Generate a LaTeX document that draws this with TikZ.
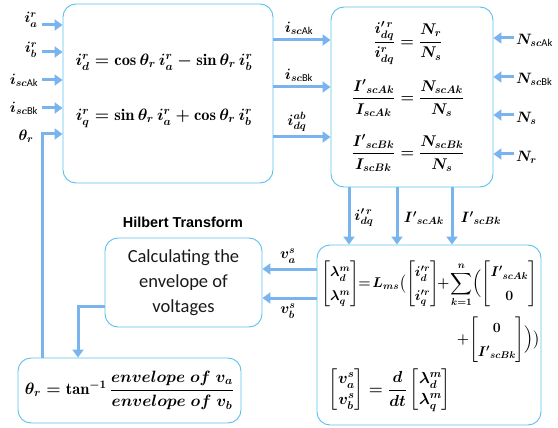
\RequirePackage{fix-cm}
\documentclass[tikz,border=0pt]{standalone}
\usepackage{amsmath}
\usepackage{graphicx}
\usepackage{fontspec}
\setsansfont{Carlito}
\newfontfamily\arialfont{Liberation Sans}
\usetikzlibrary{arrows.meta}
\definecolor{arr}{HTML}{7AB4EE}
\definecolor{bord}{HTML}{5BC0EB}
\newcommand{\sfs}[1]{\text{\sffamily\mdseries #1}}
\tikzset{
  blk/.style={draw=bord, line width=0.9pt, rounded corners=13pt, inner sep=0pt},
  flow/.style={draw=arr, line width=3pt, -{Triangle[length=8pt,width=11pt]}},
  lab/.style={inner sep=0pt, font=\fontsize{15}{17}\selectfont\boldmath},
  eqn/.style={inner sep=0pt, font=\fontsize{16.4}{19}\selectfont\boldmath},
  eqf/.style={inner sep=0pt, font=\fontsize{15.5}{18}\selectfont\boldmath},
  eqm/.style={inner sep=0pt, font=\fontsize{16}{19}\selectfont\boldmath\renewcommand\arraystretch{1.1}},
  eqt/.style={inner sep=0pt, font=\fontsize{16}{19}\selectfont\boldmath\renewcommand\arraystretch{1.4}},
}
\begin{document}
\begin{tikzpicture}[x=1pt,y=-1pt]
\useasboundingbox (0,0) rectangle (558,428);

% boxes
\node[blk, minimum width=210pt, minimum height=179pt] (b1) at (168,93.5) {};
\node[blk, minimum width=162pt, minimum height=180pt] (b2) at (412,97) {};
\node[blk, minimum width=224pt, minimum height=180pt] (b3) at (429,335) {};
\node[blk, minimum width=157pt, minimum height=89pt, align=center,
      font=\sffamily\fontsize{18.5}{25}\selectfont, text=black!90] (b4) at (183.5,282.5)
      {Calculating the\\envelope of\\voltages};
\node[blk, minimum width=223pt, minimum height=65pt, font=\fontsize{16.4}{20}\selectfont\boldmath] (b5) at (129.5,390.5)
      {$\theta_r=\tan^{-1}\dfrac{envelope\ of\ v_a}{envelope\ of\ v_b}$};

% box 1 equations
\node[eqn] (e1) at (164,62) {$i^r_d=\cos\theta_r\, i^r_a-\sin\theta_r\, i^r_b$};
\node[eqn] (e2) at (164,118) {$i^r_q=\sin\theta_r\, i^r_a+\cos\theta_r\, i^r_b$};

% box 2 equations
\node[eqf] (e3) at (408,43) {$\dfrac{i'^{\,r}_{dq}}{i^r_{dq}}=\dfrac{N_r}{N_s}$};
\node[eqf] (e4) at (408,98) {$\dfrac{{I'}_{scAk}}{I_{scAk}}=\dfrac{N_{scAk}}{N_s}$};
\node[eqf] (e5) at (408,153) {$\dfrac{{I'}_{scBk}}{I_{scBk}}=\dfrac{N_{scBk}}{N_s}$};

% box 3 equations
\node[eqt, anchor=west] (e6) at (321,284)
  {\resizebox{216pt}{!}{$\displaystyle\begin{bmatrix}\lambda^m_d\\ \lambda^m_q\end{bmatrix}\!\!=\!L_{ms}\big(\!\begin{bmatrix}i'^{r}_d\\ i'^{r}_q\end{bmatrix}\!\!+\!\sum_{k=1}^{n}\!\Big(\!\begin{bmatrix}{I'}_{scAk}\\ 0\end{bmatrix}$}};
\node[eqt, anchor=east] (e7) at (541,340)
  {\resizebox{84pt}{!}{$+\!\begin{bmatrix}0\\ {I'}_{scBk}\end{bmatrix}\!\Big)\big)$}};
\node[eqm] (e8) at (390,390)
  {$\begin{bmatrix}v^s_a\\ v^s_b\end{bmatrix}=\dfrac{d}{dt}\begin{bmatrix}\lambda^m_d\\ \lambda^m_q\end{bmatrix}$};

% Hilbert label
\node[inner sep=0pt, font=\arialfont\bfseries\fontsize{14.4}{16}\selectfont] (hil) at (183,222) {Hilbert Transform};

% left inputs
\coordinate (c1) at (42,25);
\coordinate (c2) at (42,52);
\coordinate (c3) at (42,80);
\coordinate (c4) at (42,108);
\coordinate (c5) at (42,134);
\draw[flow] (c1) -- (c1 -| b1.west);
\draw[flow] (c2) -- (c2 -| b1.west);
\draw[flow] (c3) -- (c3 -| b1.west);
\draw[flow] (c4) -- (c4 -| b1.west);
\node[lab] (l1) at (31,20) {$i^r_a$};
\node[lab] (l2) at (31,50) {$i^r_b$};
\node[lab] (l3) at (24,80) {$i_{sc\sfs{Ak}}$};
\node[lab] (l4) at (24,108) {$i_{sc\sfs{Bk}}$};
\node[lab] (l5) at (26,136) {$\theta_r$};

% feedback theta
\draw[flow] (b5.north -| c5) -- (c5) -- (c5 -| b1.west);

% box1 -> box2
\coordinate (m1) at (273,40);
\coordinate (m2) at (273,87);
\coordinate (m3) at (273,137);
\draw[flow] (m1) -- (m1 -| b2.west);
\draw[flow] (m2) -- (m2 -| b2.west);
\draw[flow] (m3) -- (m3 -| b2.west);
\node[lab] (l6) at (299,28) {$i_{sc\sfs{Ak}}$};
\node[lab] (l7) at (299,75) {$i_{sc\sfs{Bk}}$};
\node[lab] (l8) at (297,122) {$i^{ab}_{dq}$};

% right inputs
\coordinate (r1) at (514,38);
\coordinate (r2) at (514,77);
\coordinate (r3) at (514,115);
\coordinate (r4) at (514,154);
\draw[flow] (r1) -- (r1 -| b2.east);
\draw[flow] (r2) -- (r2 -| b2.east);
\draw[flow] (r3) -- (r3 -| b2.east);
\draw[flow] (r4) -- (r4 -| b2.east);
\node[lab, anchor=west] (l9) at (516,40) {$N_{sc\sfs{Ak}}$};
\node[lab, anchor=west] (l10) at (516,79) {$N_{sc\sfs{Bk}}$};
\node[lab, anchor=west] (l11) at (516,118) {$N_s$};
\node[lab, anchor=west] (l12) at (516,157) {$N_r$};

% box2 -> box3
\coordinate (d1) at (349,187);
\coordinate (d2) at (397,187);
\coordinate (d3) at (452,187);
\draw[flow] (d1) -- (d1 |- b3.north);
\draw[flow] (d2) -- (d2 |- b3.north);
\draw[flow] (d3) -- (d3 |- b3.north);
\node[lab] (l13) at (364,218) {$i'^{\,r}_{dq}$};
\node[lab] (l14) at (424,218) {${I'}_{scAk}$};
\node[lab] (l15) at (481,218) {${I'}_{scBk}$};

% box3 -> box4
\coordinate (v1) at (317,269);
\coordinate (v2) at (317,298);
\draw[flow] (v1) -- (v1 -| b4.east);
\draw[flow] (v2) -- (v2 -| b4.east);
\node[lab] (l16) at (288,256) {$v^s_a$};
\node[lab] (l17) at (288,311) {$v^s_b$};

% box4 -> box5
\coordinate (k1) at (105,306);
\coordinate (k2) at (78,306);
\draw[flow] (k1) -- (k2) -- (k2 |- b5.north);
\end{tikzpicture}
\end{document}
